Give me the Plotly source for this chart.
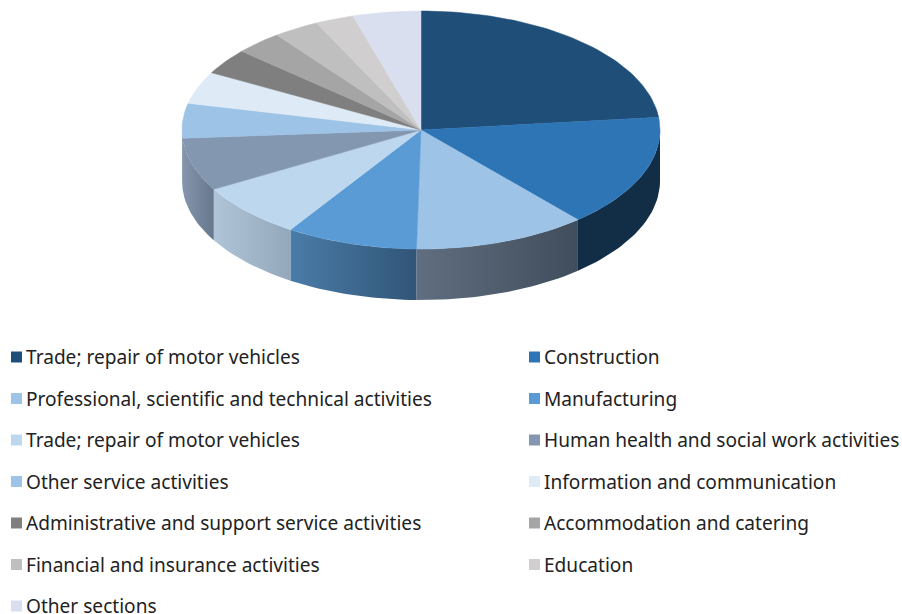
import math
import plotly.graph_objects as go

categories = [
    "Trade; repair of motor vehicles", "Construction",
    "Professional, scientific and technical activities", "Manufacturing",
    "Trade; repair of motor vehicles", "Human health and social work activities",
    "Other service activities", "Information and communication",
    "Administrative and support service activities", "Accommodation and catering",
    "Financial and insurance activities", "Education", "Other sections",
]
values = [23.3, 15.3, 11.7, 8.9, 7.5, 7.2, 4.7, 4.4, 3.5, 3.2, 3.1, 2.6, 4.6]
top_colors = ["#1F4E79", "#2E75B6", "#9DC3E6", "#5B9BD5", "#BDD7EE", "#8497B0", "#9DC3E6",
              "#DEEBF7", "#7F7F7F", "#A5A5A5", "#BFBFBF", "#D0CECE", "#D9DFEE"]
# wall shading: colour at the left end of the wall, colour at the right end
wall_left = ["#12304C", "#122E47", "#606E80", "#4A7CA8", "#B0C4D8", "#8495AD", "#8495AD",
             "#888888", "#666666", "#777777", "#888888", "#999999", "#999999"]
wall_right = ["#12304C", "#122E47", "#3F4D5C", "#315577", "#94A8BB", "#67778D", "#67778D",
              "#888888", "#666666", "#777777", "#888888", "#999999", "#999999"]

CX, CY, RX, RY, DEPTH = 421, 130, 239, 119, 51
ROW_Y0, ROW_STEP = 357, 41.5
COL_SWATCH = [16.5, 534.5]
COL_TEXT = [26, 544]
FONT = "Noto Sans"
FONT_SIZE = 19.1


def pt(deg, dy=0):
    a = math.radians(deg)
    return CX + RX * math.sin(a), CY - RY * math.cos(a) + dy


def poly(xs, ys, color, name=None, **kw):
    return go.Scatter(x=xs, y=ys, mode="lines", fill="toself", fillcolor=color,
                      line=dict(color=color, width=0.5), showlegend=False,
                      name=name or "", hoverinfo="name" if name else "skip", **kw)


fig = go.Figure()
total = sum(values)
edges = [0.0]
for v in values:
    edges.append(edges[-1] + v / total * 360)

# walls (only the front half of the rim faces the viewer)
for i in range(len(values)):
    a0, a1 = max(edges[i], 90), min(edges[i + 1], 270)
    if a1 <= a0:
        continue
    n = max(2, int((a1 - a0) / 1.5))
    angles = [a0 + (a1 - a0) * k / n for k in range(n + 1)]
    upper = [pt(a) for a in angles]
    lower = [pt(a, DEPTH) for a in reversed(angles)]
    xs = [q[0] for q in upper + lower + upper[:1]]
    ys = [q[1] for q in upper + lower + upper[:1]]
    trace = go.Scatter(
        x=xs, y=ys, mode="lines", fill="toself", showlegend=False, hoverinfo="skip",
        line=dict(width=0, color=wall_left[i]),
        fillgradient=dict(type="horizontal", start=min(xs), stop=max(xs),
                          colorscale=[[0, wall_left[i]], [1, wall_right[i]]]),
    )
    fig.add_trace(trace)

# top face
for i, name in enumerate(categories):
    steps = max(2, int((edges[i + 1] - edges[i]) / 1.5))
    rim = [pt(edges[i] + (edges[i + 1] - edges[i]) * k / steps) for k in range(steps + 1)]
    xs = [CX] + [q[0] for q in rim] + [CX]
    ys = [CY] + [q[1] for q in rim] + [CY]
    fig.add_trace(poly(xs, ys, top_colors[i], name))

# key
annotations = []
for i, name in enumerate(categories):
    col, row = i % 2, i // 2
    y = ROW_Y0 + row * ROW_STEP
    fig.add_trace(go.Scatter(x=[COL_SWATCH[col]], y=[y], mode="markers", showlegend=False,
                             marker=dict(symbol="square", size=11, color=top_colors[i], line=dict(width=0)),
                             name=name, hoverinfo="name"))
    annotations.append(dict(x=COL_TEXT[col], y=y, xref="x", yref="y", text=name, showarrow=False,
                            xanchor="left", yanchor="middle", xshift=-2, yshift=0,
                            font=dict(family=FONT, size=FONT_SIZE, color="#222222")))

fig.update_layout(
    width=902, height=614, margin=dict(l=0, r=0, t=0, b=0),
    paper_bgcolor="white", plot_bgcolor="white", showlegend=False, annotations=annotations,
    xaxis=dict(range=[0, 902], visible=False, fixedrange=True),
    yaxis=dict(range=[614, 0], visible=False, fixedrange=True),
)
fig.write_html("out.html", config={"displayModeBar": False},
               post_script="document.body.style.margin='0';")
